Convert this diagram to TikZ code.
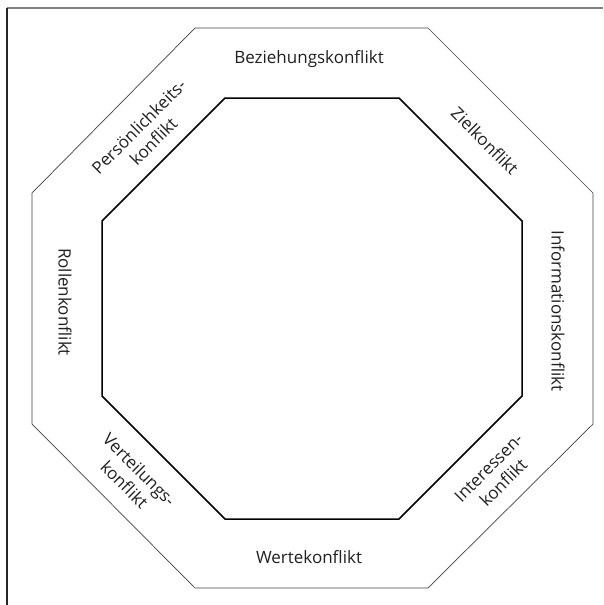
\documentclass[tikz,border=0pt]{standalone}
\usepackage{fontspec}
\setmainfont{Open Sans}
\begin{document}
\begin{tikzpicture}[x=1pt,y=-1pt,
  lbl/.style={font=\fontsize{17}{21}\selectfont, text=black!88, align=center, inner sep=0pt},
  outeroct/.style={draw=black!75, line width=0.7pt, line join=miter},
  inneroct/.style={draw=black, line width=1.5pt, line join=miter},
  frameline/.style={line width=1.5pt}]
\useasboundingbox (0,0) rectangle (603,605);
% frame
\draw[frameline, draw=black!50] (7,8) -- (603,8);
\draw[frameline, draw=black!85] (7,8) -- (7,605);
% outer octagon
\draw[outeroct] (195,28) -- (428,28) -- (593,193) -- (593,424) -- (428,588) -- (195,588) -- (32,424) -- (32,193) -- cycle;
% inner octagon
\draw[inneroct] (225,98) -- (399,98) -- (522,221) -- (522,396) -- (399,519) -- (225,519) -- (102,396) -- (102,221) -- cycle;
% labels
\node[lbl] (bez) at (309,59) {Beziehungskonflikt};
\node[lbl] (wer) at (309,557) {Wertekonflikt};
\node[lbl, rotate=-90] (rol) at (65,302) {Rollenkonflikt};
\node[lbl, rotate=-90] (inf) at (558,311) {Informationskonflikt};
\node[lbl, rotate=45] (per) at (146,134) {Persönlichkeits-\\konflikt};
\node[lbl, rotate=-45] (zie) at (485,141) {Zielkonflikt};
\node[lbl, rotate=45] (int) at (496,475) {Interessen-\\konflikt};
\node[lbl, rotate=-45] (ver) at (132,477) {Verteilungs-\\konflikt};
\end{tikzpicture}
\end{document}
